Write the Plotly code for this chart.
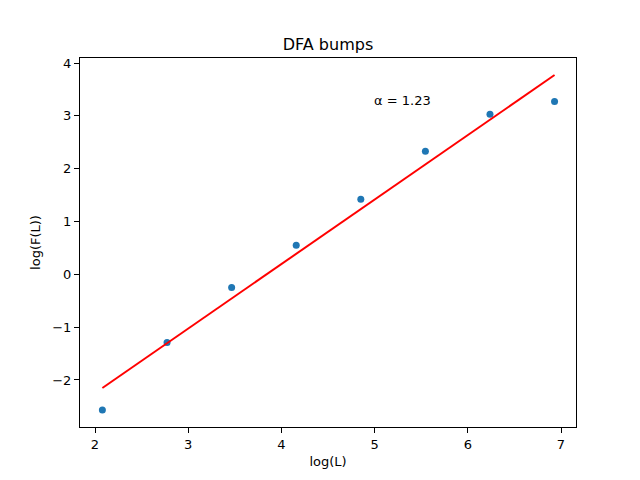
import numpy as np
import plotly.graph_objects as go

# log of window sizes and log of fluctuation
log_L = [2.079, 2.773, 3.466, 4.159, 4.852, 5.545, 6.238, 6.931]
log_F = [-2.57, -1.29, -0.25, 0.55, 1.42, 2.33, 3.03, 3.27]
alpha_label = "α = 1.23"

# linear fit through the points
slope, intercept = np.polyfit(log_L, log_F, 1)
fit_x = [log_L[0], log_L[-1]]
fit_y = [slope * v + intercept for v in fit_x]

fig = go.Figure()
fig.add_trace(go.Scatter(x=log_L, y=log_F, mode="markers",
                         marker=dict(color="#1f77b4", size=7), showlegend=False))
fig.add_trace(go.Scatter(x=fit_x, y=fit_y, mode="lines",
                         line=dict(color="red", width=2), showlegend=False))

fig.add_annotation(x=4.97, y=3.3, text=alpha_label, showarrow=False,
                   xanchor="left", yanchor="middle", font=dict(size=13, color="black"))

axis_style = dict(showgrid=False, zeroline=False, showline=True, linecolor="black",
                  linewidth=1, mirror=True, ticks="outside", ticklen=5,
                  tickcolor="black", tickfont=dict(size=13, color="black"))

fig.update_xaxes(range=[1.839, 7.161], tickvals=[2, 3, 4, 5, 6, 7],
                 title=dict(text="log(L)", font=dict(size=13, color="black"), standoff=6),
                 **axis_style)
fig.update_yaxes(range=[-2.89, 4.095], tickvals=[-2, -1, 0, 1, 2, 3, 4],
                 title=dict(text="log(F(L))", font=dict(size=13, color="black"), standoff=8),
                 **axis_style)

# page body adds 8px offset, so margins are shifted to compensate
fig.update_layout(
    width=640, height=480,
    margin=dict(l=72, r=72, t=50, b=61),
    plot_bgcolor="white", paper_bgcolor="white",
    font=dict(family="DejaVu Sans", color="black"),
    title=dict(text="DFA bumps", x=(72 + 248) / 640, xanchor="center", y=1 - 36 / 480,
               yanchor="middle", font=dict(size=16, color="black")),
)

fig.write_html("out.html")
